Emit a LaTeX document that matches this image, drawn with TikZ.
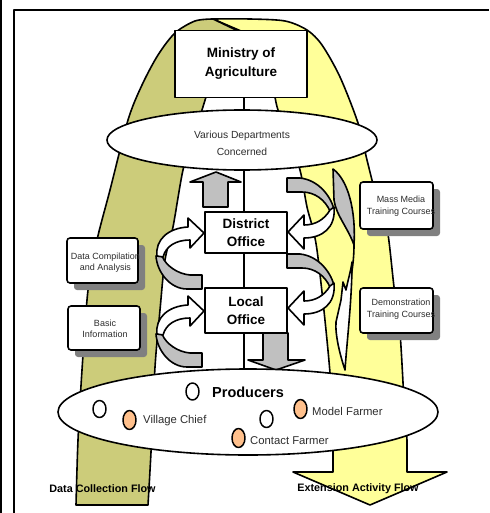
\documentclass[tikz,border=0pt]{standalone}
\usepackage{fontspec}
\setmainfont{Liberation Sans}
\usetikzlibrary{shapes.geometric,shadows}
\definecolor{olivefl}{RGB}{204,204,122}
\definecolor{yellowfl}{RGB}{255,255,153}
\definecolor{bandgray}{RGB}{192,192,192}
\definecolor{shgray}{RGB}{128,128,128}
\definecolor{peach}{RGB}{255,192,140}
\definecolor{txtgray}{RGB}{45,45,45}
\begin{document}
\begin{tikzpicture}[x=1pt,y=-1pt,line join=round,
  outl/.style={draw=black,line width=1.6pt},
  whitebox/.style={outl,fill=white,rectangle,inner sep=0pt},
  sidebox/.style={outl,fill=white,rectangle,rounded corners=3pt,inner sep=0pt,
     drop shadow={fill=shgray,opacity=1,shadow xshift=7pt,shadow yshift=-7pt}},
  grayshape/.style={outl,fill=bandgray},
  whiteshape/.style={outl,fill=white},
  bigtxt/.style={font=\bfseries\fontsize{13.5}{19}\selectfont,align=center},
  offtxt/.style={font=\bfseries\fontsize{13.5}{18}\selectfont,align=center},
  smalltxt/.style={font=\fontsize{9}{11.5}\selectfont,text=txtgray,align=center,inner sep=0pt},
  prodtxt/.style={font=\fontsize{11.3}{13}\selectfont,text=txtgray,inner sep=0pt,anchor=west},
  flowtxt/.style={font=\bfseries\fontsize{10.8}{12}\selectfont,inner sep=0pt},
  openc/.style={ellipse,draw=black,line width=1.5pt,fill=white,minimum width=13pt,minimum height=17pt,inner sep=0pt},
  orangec/.style={ellipse,draw=black,line width=1.5pt,fill=peach,minimum width=13pt,minimum height=19pt,inner sep=0pt}]
\useasboundingbox (0,0) rectangle (489,513);
\fill[white] (0,0) rectangle (489,513);
\fill[black] (0,0) rectangle (2.2,513);
\draw[line width=2pt] (13.5,513) -- (13.5,10.5) -- (489,10.5);

% extension activity flow (yellow)
\filldraw[outl,fill=yellowfl] (213,19) -- plot[smooth] coordinates {(213,19)(250,19)(285,21)(307,30)(322,45)(340,77)(358,123)(367,160)(376,195)(387,228)(394,287)(400,333)(404,400)(407,440)}
  -- (407,472) -- (447,472) -- (370,505) -- (293,472) -- (333,472)
  -- plot[smooth] coordinates {(333,453)(330,373)(317,250)(307,207)(300,170)(287,130)(278,110)(275,97)} -- (262,40) -- cycle;
% data collection flow (olive)
\filldraw[outl,fill=olivefl] (76,505) -- plot[smooth] coordinates {(76,505)(78,440)(82,370)(88,290)(97,240)(110,190)(128,120)(142,85)(158,55)(175,33)(195,21)(213,19)}
  -- (236,30) -- (210,97)
  -- plot[smooth] coordinates {(206,97)(202,110)(193,140)(183,170)(173,227)(165,260)(160,310)(155,367)(151,452)(148,505)} -- cycle;

% central axis
\coordinate (vtop) at (244,97);
\coordinate (vbot) at (244,372);
\draw[line width=1.3pt] (vtop) -- (vbot);

% gray arrows up / down
\filldraw[grayshape] (203,207) -- (203,182) -- (190,182) -- (216,172) -- (241,182) -- (228,182) -- (228,207) -- cycle;
\filldraw[grayshape] (263,333) -- (263,360) -- (248,360) -- (276,370) -- (305,360) -- (288,360) -- (288,333) -- cycle;

% left loops
\foreach \dy in {0,78}{
\begin{scope}[shift={(0,\dy)}]
\filldraw[grayshape] (202,275) -- (190,275) .. controls (178,274) and (166,266) .. (162,256) -- (156,256) .. controls (157,272) and (170,289) .. (187,289) -- (202,289) -- cycle;
\filldraw[whiteshape] (157,256) .. controls (155,240) and (168,228) .. (188,227) -- (188,218) -- (204,233) -- (190,248) -- (190,240) .. controls (176,240) and (166,246) .. (163,257) -- cycle;
\end{scope}}
% right loops
\foreach \dy in {0,76}{
\begin{scope}[shift={(0,\dy)}]
\filldraw[grayshape] (287,178) -- (300,178) .. controls (318,180) and (330,195) .. (334,209) -- (330,211) .. controls (325,200) and (315,192) .. (302,192) -- (287,192) -- cycle;
\filldraw[whiteshape] (334,207) .. controls (336,228) and (322,238) .. (304,238) -- (304,249) -- (288,232) -- (304,215) -- (304,225) .. controls (315,225) and (324,220) .. (330,210) -- cycle;
\end{scope}}

% crescents on the right
\filldraw[grayshape] (333,169) .. controls (348,180) and (356,210) .. (354,245) .. controls (348,228) and (336,215) .. (334,200) -- cycle;
\draw[outl] (354,245) .. controls (354,262) and (351,280) .. (347,295);
\filldraw[whiteshape] (352,262) .. controls (352,300) and (347,340) .. (345,370) .. controls (340,355) and (335,335) .. (336,322) -- (341,300) -- (343,282) -- (346,290) .. controls (348,280) and (351,270) .. (352,262) -- cycle;

% main nodes
\node[whitebox,minimum width=132pt,minimum height=67pt,bigtxt] (ministry) at (241,64) {Ministry of\\Agriculture};
\node[outl,fill=white,ellipse,minimum width=270pt,minimum height=60pt,inner sep=0pt] (depts) at (242,140) {};
\node[font=\fontsize{10.3}{17}\selectfont,text=txtgray,align=center,inner sep=0pt] (deptst) at (242,143) {Various Departments\\Concerned};
\node[whitebox,minimum width=82pt,minimum height=41pt,offtxt] (district) at (246,232.5) {District\\Office};
\node[whitebox,minimum width=82pt,minimum height=45pt,offtxt] (local) at (246,310.5) {Local\\Office};
\node[outl,fill=white,ellipse,minimum width=380pt,minimum height=86pt,inner sep=0pt] (producers) at (248,412) {};

% side boxes
\node[sidebox,minimum width=71pt,minimum height=45pt] (datacomp) at (102.5,260.5) {};
\node[smalltxt] (datacompt) at (105.5,262.5) {Data Compilation\\and Analysis};
\node[sidebox,minimum width=72pt,minimum height=44pt] (basic) at (104,328) {};
\node[smalltxt] (basict) at (105,329) {Basic\\Information};
\node[sidebox,minimum width=73pt,minimum height=47pt] (massmedia) at (396.5,205.5) {};
\node[smalltxt] (massmediat) at (401,206) {Mass Media\\Training Courses};
\node[sidebox,minimum width=73pt,minimum height=45pt] (demo) at (396.5,310.5) {};
\node[smalltxt] (demot) at (401,309) {Demonstration\\Training Courses};

% producers content
\node[openc] (c0) at (192.5,391.5) {};
\node[font=\bfseries\fontsize{14.5}{16}\selectfont,inner sep=0pt,anchor=west] (prodt) at (212,392) {Producers};
\node[openc] (c1) at (99.5,409) {};
\node[orangec] (c2) at (129.5,420) {};
\node[prodtxt] (vc) at (143,421) {Village Chief};
\node[openc] (c3) at (266.5,419) {};
\node[orangec] (c4) at (300.5,409) {};
\node[prodtxt] (mf) at (312,411.5) {Model Farmer};
\node[orangec] (c5) at (238.5,438) {};
\node[prodtxt] (cf) at (250,441) {Contact Farmer};

% flow labels
\node[flowtxt] (dcf) at (102.5,489) {Data Collection Flow};
\node[flowtxt] (eaf) at (358,489) {Extension Activity Flow};
\end{tikzpicture}
\end{document}
